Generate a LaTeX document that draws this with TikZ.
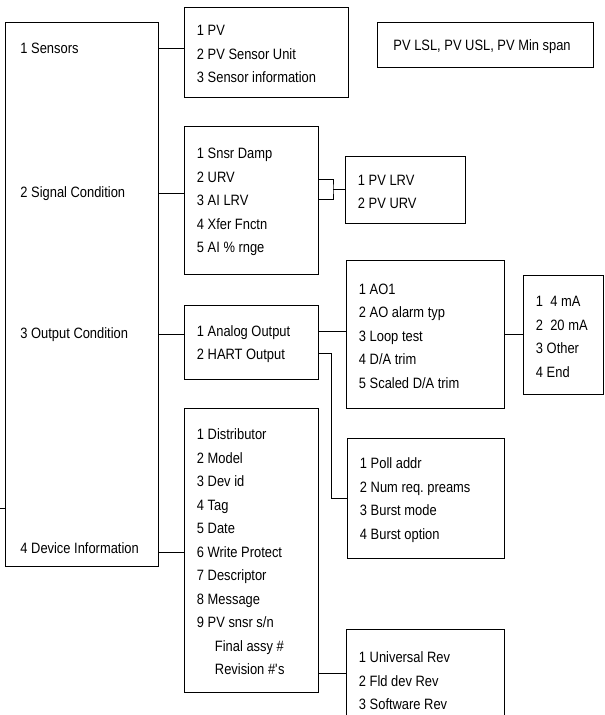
\documentclass[tikz,border=0pt]{standalone}
\usepackage{fontspec}
\setmainfont{Liberation Sans}[FakeStretch=0.86]

\begin{document}
\begin{tikzpicture}[x=1pt,y=-1pt,line width=.9pt,
    font=\fontsize{15}{23.5}\selectfont,
    menubox/.style={draw,anchor=north west,inner sep=0pt},
    subbox/.style={draw,anchor=north west,inner xsep=12.5pt,inner ysep=0pt,align=left,
      execute at begin node={\spaceskip=3.6pt\xspaceskip=3.6pt\rule{0pt}{14pt}}},
    entry/.style={anchor=base west,inner sep=0pt}]
    \clip (0,0) rectangle (605,715);
    \useasboundingbox (0,0) rectangle (605,715);
    % main menu
    \node[menubox,minimum width=153pt,minimum height=544pt] (menu) at (5,22) {};
    \node[entry] (sensors) at (20,53.4) {1 Sensors};
    \node[entry] (signal) at (20,197.4) {2 Signal Condition};
    \node[entry] (output) at (20,338.4) {3 Output Condition};
    \node[entry] (device) at (20,553.4) {4 Device Information};
    \coordinate (parent) at (0,508);
    \draw (parent) -- (menu.west |- parent);
    % sub menus
    \node[subbox,text width=139pt,minimum height=90pt] (sensbox) at (184,7)
      {1 PV\\2 PV Sensor Unit\\3 Sensor information};
    \node[subbox,inner xsep=16pt,text width=184pt,minimum height=45pt] (spanbox) at (377,22)
      {PV LSL, PV USL, PV Min span};
    \node[subbox,text width=109pt,minimum height=148pt] (sigbox) at (184,126)
      {1 Snsr Damp\\2 URV\\3 AI LRV\\4 Xfer Fnctn\\5 AI \% rnge};
    \node[subbox,text width=95pt,minimum height=67pt] (lrvbox) at (345,156)
      {1 PV LRV\\2 PV URV};
    \node[subbox,text width=109pt,minimum height=74pt] (outbox) at (184,305)
      {1 Analog Output\\2 HART Output};
    \node[subbox,text width=133pt,minimum height=148pt] (aobox) at (346,260)
      {1 AO1\\2 AO alarm typ\\3 Loop test\\4 D/A trim\\5 Scaled D/A trim};
    \node[subbox,text width=55pt,minimum height=119pt] (mabox) at (523,275)
      {1\ \ 4 mA\\2\ \ 20 mA\\3 Other\\4 End};
    \node[subbox,text width=132pt,minimum height=120pt] (pollbox) at (347,438)
      {1 Poll addr\\2 Num req. preams\\3 Burst mode\\4 Burst option};
    \node[subbox,text width=109pt,minimum height=284pt] (devbox) at (184,408)
      {1 Distributor\\2 Model\\3 Dev id\\4 Tag\\5 Date\\6 Write Protect\\7 Descriptor\\8 Message\\9 PV snsr s/n\\
       \hspace*{18pt}Final assy \#\\\hspace*{18pt}Revision \#\textquotesingle s};
    \node[subbox,text width=133pt,minimum height=100pt] (revbox) at (346,629)
      {1 Universal Rev\\2 Fld dev Rev\\3 Software Rev};
    % connectors
    \draw (menu.east |- sensors) -- (sensbox.west |- sensors);
    \draw (menu.east |- signal) -- (sigbox.west |- signal);
    \draw (menu.east |- output) -- (outbox.west |- output);
    \draw (menu.east |- {0,552}) -- (devbox.west |- {0,552});
    \coordinate (brk) at (333,189);
    \draw (sigbox.east |- {0,179}) -| (brk) |- (sigbox.east |- {0,199});
    \draw (brk) -- (lrvbox.west |- brk);
    \draw (outbox.east |- {0,331}) -- (aobox.west |- {0,331});
    \draw (aobox.east) -- (mabox.west |- aobox.east);
    \coordinate (hart) at (331,498);
    \draw (outbox.east |- {0,353}) -| (hart) -- (pollbox.west |- hart);
    \draw (devbox.east |- {0,673}) -- (revbox.west |- {0,673});
\end{tikzpicture}
\end{document}
